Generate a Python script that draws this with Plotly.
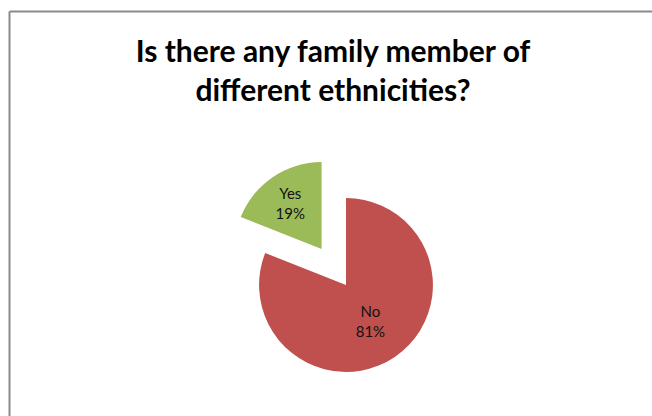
import plotly.graph_objects as go

labels = ["No", "Yes"]
values = [81, 19]
colors = ["#C0504D", "#9BBB59"]
pulls = [0, 0.5]
title_text = "Is there any family member of<br>different ethnicities?"

W, H = 652, 416

fig = go.Figure(
    go.Pie(
        labels=labels,
        values=values,
        sort=False,
        direction="clockwise",
        rotation=0,
        pull=pulls,
        marker=dict(colors=colors, line=dict(width=0)),
        texttemplate="%{label}<br>%{percent:.0%}",
        textposition="inside",
        insidetextorientation="horizontal",
        textfont=dict(family="Lato", size=15, color="#111111"),
        showlegend=False,
        hoverinfo="label+percent",
        domain=dict(x=[346 / W - 130.4 / W, 346 / W + 130.4 / W], y=[0, 262 / H]),
    )
)

fig.update_layout(
    width=W,
    height=H,
    margin=dict(l=0, r=0, t=0, b=0),
    paper_bgcolor="white",
    plot_bgcolor="white",
    title=dict(
        text=title_text,
        font=dict(family="Lato", size=30, color="black", weight="bold"),
        x=333 / W,
        xanchor="center",
        y=1 - 62 / H,
        yanchor="top",
        yref="container",
    ),
    shapes=[
        dict(type="line", xref="paper", yref="paper",
             x0=9.5 / W, x1=9.5 / W, y0=0, y1=1 - 11.5 / H,
             line=dict(color="#8a8a8a", width=2)),
        dict(type="line", xref="paper", yref="paper",
             x0=9.5 / W, x1=1, y0=1 - 11.5 / H, y1=1 - 11.5 / H,
             line=dict(color="#8a8a8a", width=2)),
    ],
)

fig.write_html(
    "out.html",
    config={"displayModeBar": False},
    post_script="document.body.style.margin='0';",
)
